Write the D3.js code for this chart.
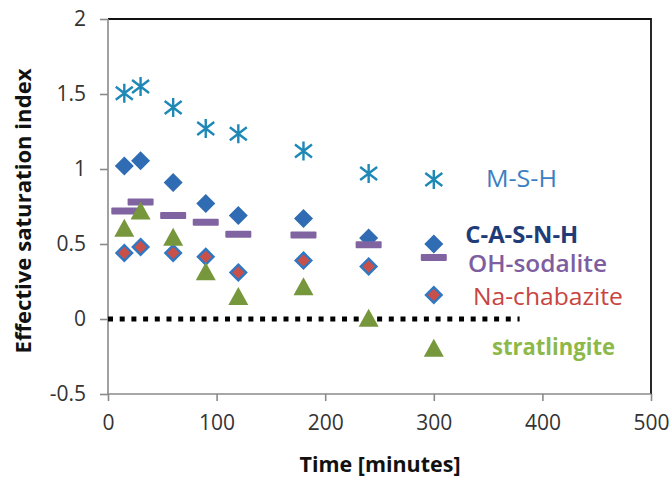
<!DOCTYPE html>
<html><head><meta charset="utf-8">
<script src="https://cdn.jsdelivr.net/npm/d3@7"></script>
<style>body{margin:0;background:#fff;}svg{display:block;font-family:"Open Sans",sans-serif;}</style>
</head><body>
<svg id="c" width="672" height="478"></svg>
<script>
const times = [15, 30, 60, 90, 120, 180, 240, 300];
const msh = [1.505, 1.55, 1.41, 1.27, 1.235, 1.12, 0.97, 0.93];
const casnh = [1.02, 1.055, 0.91, 0.77, 0.69, 0.67, 0.54, 0.50];
const sodalite = [0.72, 0.78, 0.69, 0.645, 0.565, 0.56, 0.495, 0.41];
const chabazite = [0.44, 0.48, 0.44, 0.415, 0.31, 0.39, 0.35, 0.16];
const stratlingite = [0.605, 0.72, 0.545, 0.315, 0.15, 0.215, 0.005, -0.195];
const zeroLine = {x: [0, 379], y: 0};
const xTicks = [0, 100, 200, 300, 400, 500];
const yTicks = [-0.5, 0, 0.5, 1, 1.5, 2];
const yTickLabels = ["-0.5", "0", "0.5", "1", "1.5", "2"];
const labels = [
  {text: "M-S-H", t: 348, v: 0.88, color: "#3b7fc2", weight: 400, size: 24, len: 71},
  {text: "C-A-S-N-H", t: 329, v: 0.507, color: "#1f3c78", weight: 700, size: 23, len: 113},
  {text: "OH-sodalite", t: 331.5, v: 0.313, color: "#7d5ea0", weight: 600, size: 23, len: 139},
  {text: "Na-chabazite", t: 336, v: 0.093, color: "#c7453f", weight: 500, size: 23, len: 150},
  {text: "stratlingite", t: 353.6, v: -0.24, color: "#8db84a", weight: 700, size: 23, len: 123}
];

const svg = d3.select("#c");
const x = d3.scaleLinear().domain([0, 500]).range([108, 651]);
const y = d3.scaleLinear().domain([-0.5, 2]).range([394, 19]);
const axisColor = "#8a8a8a";

// frame top & right
svg.append("path").attr("d", `M${x(0)},${y(2)}H${x(500)}V${y(-0.5)}`)
  .attr("fill", "none").attr("stroke", "#111").attr("stroke-width", 1.8);

// axes
const yAxis = svg.append("g").attr("transform", `translate(${x(0)},0)`)
  .call(d3.axisLeft(y).tickValues(yTicks).tickSize(8).tickPadding(14)
    .tickFormat((d, i) => yTickLabels[i]));
const xAxis = svg.append("g").attr("transform", `translate(0,${y(-0.5)})`)
  .call(d3.axisBottom(x).tickValues(xTicks).tickSize(7).tickPadding(14));
[xAxis, yAxis].forEach(g => {
  g.selectAll("path,line").attr("stroke", axisColor).attr("stroke-width", 1.6);
  g.selectAll("text").attr("font-size", 21).attr("fill", "#333").attr("font-family", "'Open Sans', sans-serif");
});
yAxis.select(".domain").attr("d", `M0,${y(-0.5)}V${y(2)}`);
xAxis.select(".domain").attr("d", `M${x(0)},0H${x(500)}`);

// axis titles
svg.append("text").attr("transform", `translate(31,211) rotate(-90)`)
  .attr("text-anchor", "middle")
  .attr("font-size", 21).attr("font-weight", 700).attr("fill", "#111")
  .attr("textLength", 285).attr("lengthAdjust", "spacingAndGlyphs")
  .text("Effective saturation index");
svg.append("text").attr("x", 380).attr("y", 472)
  .attr("text-anchor", "middle").attr("font-size", 21).attr("font-weight", 700).attr("fill", "#111")
  .attr("textLength", 161).attr("lengthAdjust", "spacingAndGlyphs")
  .text("Time [minutes]");

// zero dotted line
svg.append("line").attr("x1", x(zeroLine.x[0])).attr("x2", x(zeroLine.x[1]))
  .attr("y1", y(zeroLine.y)).attr("y2", y(zeroLine.y))
  .attr("stroke", "#000").attr("stroke-width", 5).attr("stroke-dasharray", "5,6.7");

const pts = arr => arr.map((v, i) => [x(times[i]), y(v)]);

// M-S-H asterisks
svg.append("g").selectAll("path").data(pts(msh)).join("path")
  .attr("transform", d => `translate(${d[0]},${d[1]})`)
  .attr("d", "M0,-9.5V9.5M-8.5,-6.5L8.5,6.5M-8.5,6.5L8.5,-6.5")
  .attr("stroke", "#1e88b6").attr("stroke-width", 2.4).attr("fill", "none");

// C-A-S-N-H diamonds
svg.append("g").selectAll("path").data(pts(casnh)).join("path")
  .attr("transform", d => `translate(${d[0]},${d[1]})`)
  .attr("d", "M0,-9.5L9.5,0L0,9.5L-9.5,0Z").attr("fill", "#2f6cb3");

// OH-sodalite dashes
svg.append("g").selectAll("rect").data(pts(sodalite)).join("rect")
  .attr("x", d => d[0] - 13).attr("y", d => d[1] - 3.5).attr("width", 26).attr("height", 7)
  .attr("fill", "#8064a2").attr("rx", 1);

// Na-chabazite diamonds
svg.append("g").selectAll("path").data(pts(chabazite)).join("path")
  .attr("transform", d => `translate(${d[0]},${d[1]})`)
  .attr("d", "M0,-7.8L7.8,0L0,7.8L-7.8,0Z").attr("fill", "#c8504a")
  .attr("stroke", "#2f78c4").attr("stroke-width", 2.4);

// stratlingite triangles
svg.append("g").selectAll("path").data(pts(stratlingite)).join("path")
  .attr("transform", d => `translate(${d[0]},${d[1]})`)
  .attr("d", "M0,-9.5L10,8.5L-10,8.5Z").attr("fill", "#76973b");

// labels
svg.append("g").selectAll("text").data(labels).join("text")
  .attr("x", d => x(d.t)).attr("y", d => y(d.v))
  .attr("font-size", d => d.size).attr("font-weight", d => d.weight).attr("fill", d => d.color)
  .attr("textLength", d => d.len).attr("lengthAdjust", "spacingAndGlyphs")
  .text(d => d.text);
</script>
</body></html>
